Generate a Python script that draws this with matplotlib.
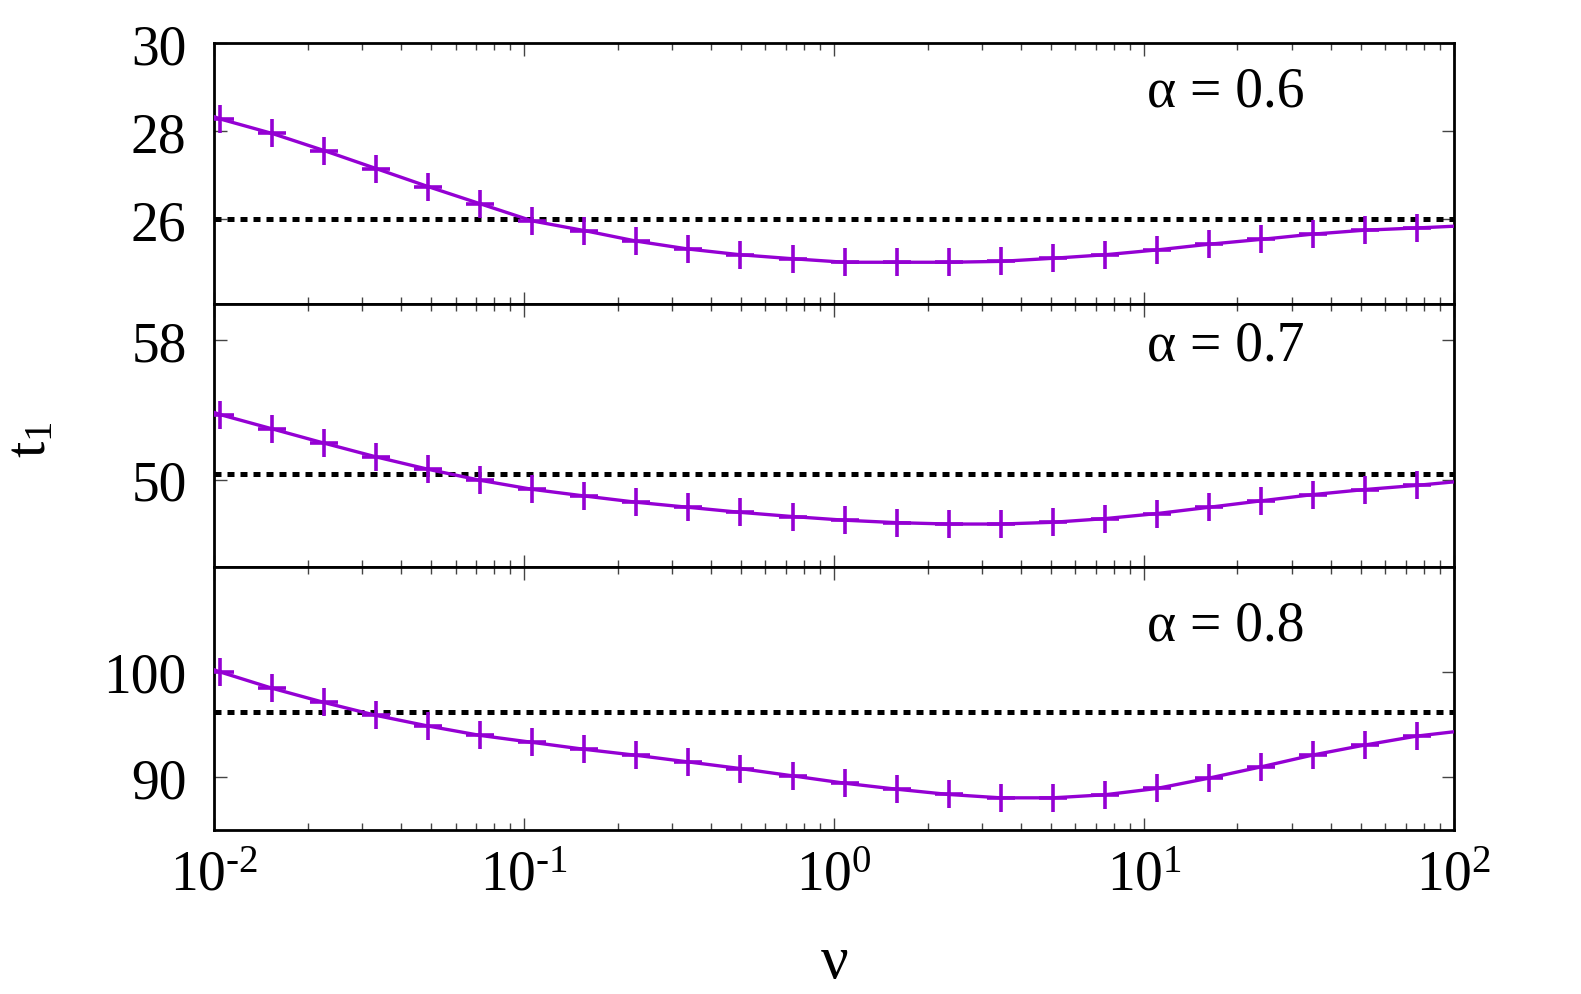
import matplotlib
matplotlib.use("Agg")
import matplotlib.pyplot as plt
from matplotlib.ticker import LogLocator, NullFormatter

plt.rcParams['font.family'] = ['Liberation Serif', 'DejaVu Serif']
plt.rcParams['mathtext.fontset'] = 'custom'
plt.rcParams['mathtext.rm'] = 'Liberation Serif'
plt.rcParams['mathtext.it'] = 'Liberation Serif:italic'

# nu values where the markers sit
nu = [0.01044, 0.01537, 0.02262, 0.0333, 0.0490, 0.0721, 0.1062, 0.1563,
      0.2301, 0.3386, 0.4984, 0.7337, 1.080, 1.590, 2.340, 3.445,
      5.07, 7.46, 10.99, 16.17, 23.81, 35.04, 51.58, 75.9]
nu_ends = [0.01, 100.0]

t1_a06 = [28.28, 27.95, 27.56, 27.15, 26.74, 26.35, 25.96, 25.74, 25.50, 25.32,
          25.19, 25.10, 25.02, 25.02, 25.02, 25.04, 25.11, 25.19, 25.30, 25.43,
          25.54, 25.66, 25.75, 25.80]
t1_a07 = [53.73, 52.91, 52.09, 51.30, 50.59, 49.96, 49.44, 49.06, 48.70, 48.41,
          48.12, 47.88, 47.67, 47.53, 47.45, 47.45, 47.55, 47.76, 48.05, 48.41,
          48.78, 49.14, 49.43, 49.67]
t1_a08 = [100.0, 98.45, 97.10, 95.87, 94.86, 93.97, 93.31, 92.65, 92.08, 91.45,
          90.82, 90.13, 89.43, 88.86, 88.36, 88.04, 88.04, 88.33, 88.93, 89.91,
          90.98, 92.11, 93.06, 93.91]
# curve values at the left and right edge of the axis
ends_a06 = [28.33, 25.84]
ends_a07 = [53.85, 49.87]
ends_a08 = [100.2, 94.32]

reference = [26.0, 50.33, 96.15]
alphas = ['0.6', '0.7', '0.8']
ylims = [(24.08, 30.0), (45.0, 60.1), (85.0, 110.0)]
yticks = [[26, 28, 30], [50, 58], [90, 100]]
xtick_labels = [r'$10^{\text{-}2}$', r'$10^{\text{-}1}$', r'$10^{0}$', r'$10^{1}$', r'$10^{2}$']

purple = '#9400D3'
fs = 40

fig = plt.figure(figsize=(15.81, 9.95), dpi=100)
left, width = 0.1356, 0.9197 - 0.1356
bounds = [(0.6939, 0.9554), (0.4294, 0.6939), (0.165, 0.4294)]
text_y = [0.763, 0.789, 0.725]

series = [(t1_a06, ends_a06), (t1_a07, ends_a07), (t1_a08, ends_a08)]

for i, (vals, ends) in enumerate(series):
    b, t = bounds[i]
    ax = fig.add_axes([left, b, width, t - b])
    xs = [nu_ends[0]] + nu + [nu_ends[1]]
    ys = [ends[0]] + vals + [ends[1]]
    ax.plot(xs, ys, color=purple, lw=2.4, marker='+', ms=20, mew=2.6,
            markevery=slice(1, len(xs) - 1), zorder=3)
    ax.axhline(reference[i], color='black', lw=3.6, ls=(0, (1.4, 1.2)), zorder=2)

    ax.set_xscale('log')
    ax.set_xlim(0.01, 100)
    ax.set_ylim(*ylims[i])
    ax.set_yticks(yticks[i])
    ax.xaxis.set_major_locator(LogLocator(base=10, numticks=10))
    ax.xaxis.set_minor_locator(LogLocator(base=10, subs=range(2, 10), numticks=10))
    ax.xaxis.set_minor_formatter(NullFormatter())

    ax.tick_params(axis='both', which='major', direction='in', top=True, right=True,
                   length=9, width=1.0, color='#444444', labelsize=fs)
    ax.tick_params(axis='x', which='minor', direction='in', top=True, bottom=True,
                   length=5, width=1.0, color='#444444')
    ax.tick_params(axis='y', which='major', pad=20)
    for s in ax.spines.values():
        s.set_linewidth(2.0)

    if i < 2:
        ax.tick_params(axis='x', which='both', labelbottom=False)
    else:
        ax.set_xticks([0.01, 0.1, 1, 10, 100])
        ax.set_xticklabels(xtick_labels)
        ax.tick_params(axis='x', which='major', pad=14)

    ax.text(0.752, text_y[i], r'α = ' + alphas[i], transform=ax.transAxes,
            fontsize=fs, ha='left', va='baseline')

fig.text(0.0195, 0.558, r'$\mathrm{t}_1$', rotation=90, fontsize=fs + 2,
         ha='center', va='center')
fig.text(0.528, 0.032, 'ν', fontsize=fs + 4, ha='center', va='center')

fig.savefig('out.png', dpi=100)
